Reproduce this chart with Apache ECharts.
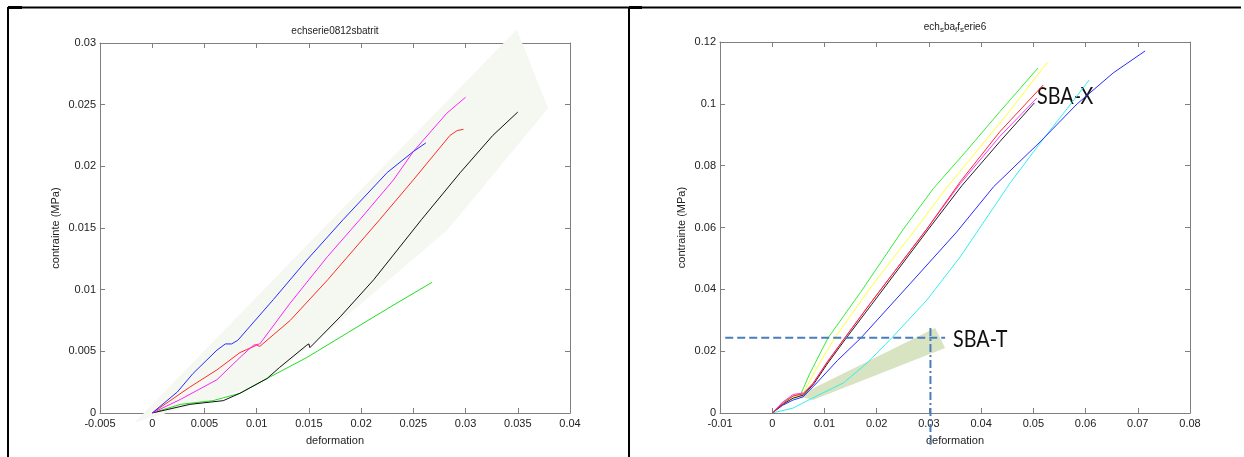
<!DOCTYPE html>
<html><head><meta charset="utf-8">
<script src="https://cdn.jsdelivr.net/npm/echarts@6/dist/echarts.min.js"></script>
<style>html,body{margin:0;padding:0;background:#fff}#c{width:1244px;height:457px}</style>
</head><body><div id="c"></div>
<script>
// ---------- tick ranges ----------
const leftXTicks = [-0.005, 0, 0.005, 0.01, 0.015, 0.02, 0.025, 0.03, 0.035, 0.04];
const leftYTicks = [0, 0.005, 0.01, 0.015, 0.02, 0.025, 0.03];
const rightXTicks = [-0.01, 0, 0.01, 0.02, 0.03, 0.04, 0.05, 0.06, 0.07, 0.08];
const rightYTicks = [0, 0.02, 0.04, 0.06, 0.08, 0.1, 0.12];

// ---------- left panel: echserie0812sbatrit ----------
const blueT = [[0,0],[0.0024,0.0017],[0.0039,0.0032],[0.0062,0.0051],[0.0070,0.0056],[0.0076,0.0056],[0.0082,0.0059],[0.0116,0.0092],[0.0148,0.0124],[0.0183,0.0157],[0.0225,0.0195],[0.0250,0.0212],[0.0262,0.0219]];
const magentaT = [[0,0],[0.0027,0.0011],[0.0062,0.0027],[0.0084,0.0045],[0.0097,0.0055],[0.0103,0.0056],[0.0132,0.0089],[0.0168,0.0127],[0.0199,0.0157],[0.0231,0.0189],[0.0250,0.0212],[0.0282,0.0243],[0.0300,0.0256]];
const redT = [[0,0],[0.0036,0.0021],[0.0062,0.0035],[0.0084,0.0049],[0.0100,0.0055],[0.0103,0.0054],[0.0132,0.0075],[0.0168,0.0108],[0.0218,0.0157],[0.0250,0.0189],[0.0285,0.0225],[0.0292,0.0229],[0.0298,0.0230]];
const blackT = [[0,0],[0.0036,0.0007],[0.0068,0.0010],[0.0084,0.0016],[0.0110,0.0028],[0.0122,0.0037],[0.0148,0.0055],[0.0150,0.0056],[0.0151,0.0053],[0.0180,0.0078],[0.0212,0.0108],[0.0258,0.0157],[0.0295,0.0195],[0.0326,0.0225],[0.0350,0.0244]];
const greenT = [[0,0],[0.0027,0.0007],[0.0058,0.0010],[0.0084,0.0016],[0.0110,0.0028],[0.0148,0.0045],[0.0187,0.0065],[0.0228,0.0086],[0.0268,0.0106]];
const shadeT = [[-0.0017,-0.0008],[0.0349,0.0311],[0.0379,0.0247],[0.0282,0.0148],[0.0170,0.0067],[0.0103,0.0023]];

// ---------- right panel: ech_sba_ff_serie6 ----------
const greenX = [[0,0],[0.002,0.0035],[0.004,0.0055],[0.0055,0.0062],[0.0072,0.0128],[0.0107,0.0243],[0.0169,0.0390],[0.0250,0.0592],[0.0308,0.0725],[0.0373,0.0850],[0.0436,0.0975],[0.0509,0.1116]];
const yellowX = [[0,0],[0.002,0.003],[0.004,0.005],[0.006,0.0065],[0.0085,0.0145],[0.0120,0.0243],[0.0190,0.0410],[0.0277,0.0600],[0.0335,0.0731],[0.0398,0.0860],[0.0461,0.0990],[0.0527,0.1135]];
const redX = [[0,0],[0.002,0.003],[0.004,0.0055],[0.006,0.0062],[0.0078,0.0095],[0.0105,0.0163],[0.0139,0.0243],[0.0188,0.0355],[0.0296,0.0595],[0.0360,0.0748],[0.0436,0.0910],[0.0519,0.1061]];
const magentaX = [[0,0],[0.002,0.0035],[0.004,0.006],[0.006,0.0065],[0.0078,0.0095],[0.0105,0.0165],[0.0140,0.0245],[0.0188,0.0355],[0.0296,0.0595],[0.0360,0.0742],[0.0436,0.0895],[0.0507,0.1019]];
const blackX = [[0,0],[0.002,0.0028],[0.004,0.0048],[0.006,0.0058],[0.0080,0.0095],[0.0105,0.0158],[0.0142,0.0243],[0.0190,0.0350],[0.0298,0.0592],[0.0363,0.0735],[0.0436,0.0878],[0.0502,0.1003]];
const blueX = [[0,0],[0.002,0.0025],[0.004,0.0042],[0.0059,0.0052],[0.0085,0.0097],[0.0125,0.0170],[0.0170,0.0243],[0.0265,0.0420],[0.0353,0.0585],[0.0424,0.0732],[0.0513,0.0877],[0.0584,0.1000],[0.0653,0.1100],[0.0714,0.1171]];
const cyanX = [[0,0],[0.004,0.0016],[0.0078,0.0049],[0.0136,0.0097],[0.0182,0.0162],[0.0229,0.0243],[0.0296,0.0365],[0.0360,0.0505],[0.0392,0.0585],[0.0456,0.0745],[0.0513,0.0873],[0.0565,0.0985],[0.0607,0.1077]];
const shadeX = [[0.0049,0.0055],[0.0312,0.0275],[0.0331,0.0210],[0.0078,0.0042]];
const guideH = [[-0.009,0.0243],[0.0331,0.0243]];
const guideV = [[0.0303,0.0275],[0.0303,-0.0103]];

// ---------- chart ----------
const chart = echarts.init(document.getElementById('c'), null, {renderer:'canvas'});
const FONT = 'Liberation Sans, Arial, sans-serif';
const AX = '#7f7f7f';
function mainX(grid, ticks, name){
  return {gridIndex:grid, type:'value', min:ticks[0], max:ticks[ticks.length-1], interval:ticks[1]-ticks[0],
    name:name, nameLocation:'middle', nameGap:22, nameTextStyle:{color:'#222', fontSize:11, fontFamily:FONT},
    axisLine:{show:true, onZero:false, lineStyle:{color:AX, width:1}},
    axisTick:{show:true, inside:true, length:5, lineStyle:{color:AX}},
    axisLabel:{color:'#222', fontSize:11, fontFamily:FONT, margin:5},
    splitLine:{show:false}};
}
function mirrorX(grid, ticks){
  return {gridIndex:grid, type:'value', position:'top', min:ticks[0], max:ticks[ticks.length-1], interval:ticks[1]-ticks[0],
    axisLine:{show:true, onZero:false, lineStyle:{color:AX, width:1}},
    axisTick:{show:true, inside:true, length:5, lineStyle:{color:AX}},
    axisLabel:{show:false}, splitLine:{show:false}};
}
function mainY(grid, ticks, gap){
  return {gridIndex:grid, type:'value', min:ticks[0], max:ticks[ticks.length-1], interval:ticks[1]-ticks[0],
    name:'contrainte (MPa)', nameLocation:'middle', nameGap:gap, nameTextStyle:{color:'#222', fontSize:11, fontFamily:FONT},
    axisLine:{show:true, onZero:false, lineStyle:{color:AX, width:1}},
    axisTick:{show:true, inside:true, length:5, lineStyle:{color:AX}},
    axisLabel:{color:'#222', fontSize:11, fontFamily:FONT, margin:4},
    splitLine:{show:false}};
}
function mirrorY(grid, ticks){
  return {gridIndex:grid, type:'value', position:'right', min:ticks[0], max:ticks[ticks.length-1], interval:ticks[1]-ticks[0],
    axisLine:{show:true, onZero:false, lineStyle:{color:AX, width:1}},
    axisTick:{show:true, inside:true, length:5, lineStyle:{color:AX}},
    axisLabel:{show:false}, splitLine:{show:false}};
}
function curve(data, color, xi, yi){
  return {type:'line', data:data, xAxisIndex:xi, yAxisIndex:yi, showSymbol:false, symbol:'none', smooth:false,
    lineStyle:{color:color, width:1}, z:3, silent:true, animation:false};
}
function poly(pts, color, xi, yi){
  return {type:'custom', xAxisIndex:xi, yAxisIndex:yi, clip:false, silent:true, z:1, animation:false,
    data:[pts[0]],
    renderItem:function(params, api){
      return {type:'polygon', shape:{points:pts.map(function(q){return api.coord(q);})}, style:{fill:color}};
    }};
}
function guide(data, dash, xi, yi){
  return {type:'line', data:data, xAxisIndex:xi, yAxisIndex:yi, showSymbol:false, symbol:'none', clip:false,
    lineStyle:{color:'#4a7ebb', width:2, type:dash}, z:4, silent:true, animation:false};
}
function note(x, y, txt){
  return {type:'text', x:x, y:y, scaleX:0.86, style:{x:0, y:0, text:txt, font:'23px Lato', fill:'#111', textAlign:'left', textVerticalAlign:'middle'}};
}

const option = {
  backgroundColor:'#ffffff',
  animation:false,
  grid:[{left:100, top:43, width:470, height:370}, {left:720, top:42, width:470, height:371}],
  xAxis:[mainX(0, leftXTicks, 'deformation'), mirrorX(0, leftXTicks), mainX(1, rightXTicks, 'deformation'), mirrorX(1, rightXTicks)],
  yAxis:[mainY(0, leftYTicks, 39), mirrorY(0, leftYTicks), mainY(1, rightYTicks, 33), mirrorY(1, rightYTicks)],
  series:[
    poly(shadeT, '#f5f7f1', 0, 0),
    curve(greenT, '#22dd22', 0, 0),
    curve(blackT, '#111111', 0, 0),
    curve(redT, '#ff2a2a', 0, 0),
    curve(magentaT, '#ff22ff', 0, 0),
    curve(blueT, '#2a2aff', 0, 0),
    poly(shadeX, '#d7e3c1', 2, 2),
    curve(cyanX, '#33eeee', 2, 2),
    curve(blueX, '#2a2aff', 2, 2),
    curve(greenX, '#33ee33', 2, 2),
    curve(yellowX, '#ffff33', 2, 2),
    curve(blackX, '#222222', 2, 2),
    curve(magentaX, '#ff33ff', 2, 2),
    curve(redX, '#ff2a2a', 2, 2),
    guide(guideH, [8,4], 2, 2),
    guide(guideV, [8,3,2,3], 2, 2)
  ],
  graphic:[
    {type:'line', shape:{x1:8, y1:7.5, x2:1241, y2:7.5}, style:{stroke:'#000', lineWidth:2}},
    {type:'line', shape:{x1:8, y1:7, x2:8, y2:457}, style:{stroke:'#000', lineWidth:2}},
    {type:'line', shape:{x1:629, y1:7, x2:629, y2:457}, style:{stroke:'#000', lineWidth:2}},
    {type:'rect', shape:{x:8, y:6, width:14, height:3}, style:{fill:'#000'}},
    {type:'rect', shape:{x:629, y:6, width:13, height:3}, style:{fill:'#000'}},
    {type:'text', style:{x:335, y:31, text:'echserie0812sbatrit', font:'10px Liberation Sans', fill:'#222', textAlign:'center', textVerticalAlign:'middle'}},
    {type:'text', style:{x:955, y:27, textAlign:'center', textVerticalAlign:'middle',
      text:'{n|ech}{s|s}{n|ba}{s|f}{n|f}{s|s}{n|erie6}',
      rich:{n:{fontSize:10, fontFamily:'Liberation Sans', fill:'#222'}, s:{fontSize:8, fontFamily:'Liberation Sans', fill:'#222', padding:[6,0,0,0]}}}},
    note(449, 110, 'SBA-T'),
    note(1037, 97, 'SBA-X'),
    note(953, 340, 'SBA-T')
  ]
};
chart.setOption(option);
</script>
</body></html>
